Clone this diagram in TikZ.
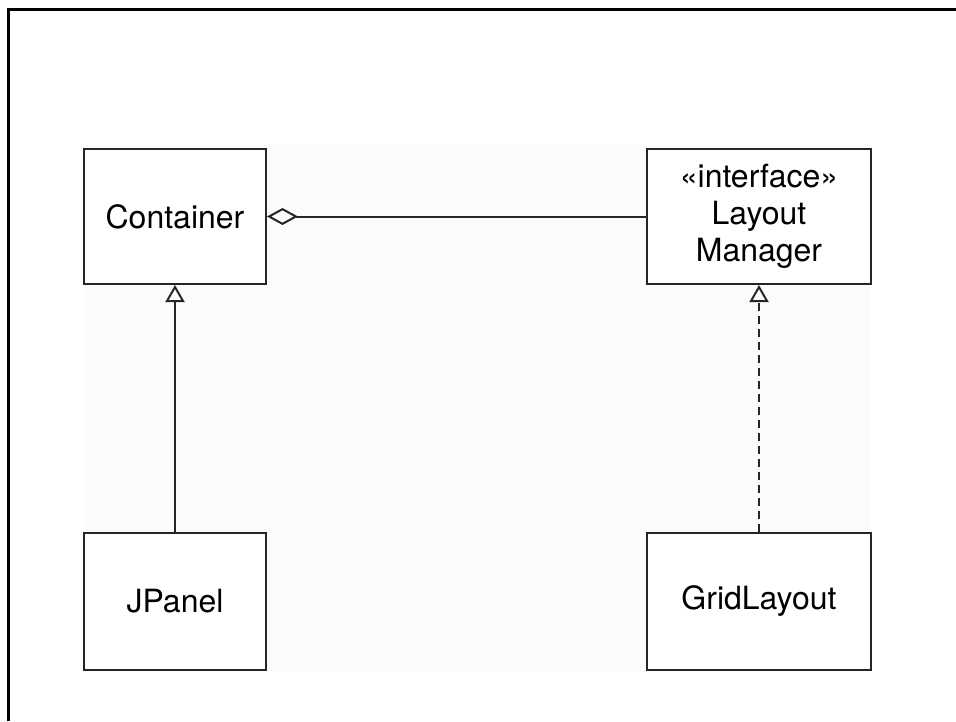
\documentclass[tikz,border=0pt]{standalone}
\usepackage{fontspec}
\setmainfont{TeX Gyre Heros}
\usetikzlibrary{arrows.meta}
\tikzset{
  classbox/.style={draw=black!85, line width=2pt, fill=white, align=center,
    font=\fontsize{32}{37}\selectfont, inner sep=0pt},
  conn/.style={draw=black!85, line width=2pt},
}
\begin{document}
\begin{tikzpicture}[x=1pt,y=-1pt]
\useasboundingbox (0,0) rectangle (956,721);
\fill[white] (0,0) rectangle (956,721);
\fill[black!1.5] (84,145) rectangle (871,672);
\draw[line width=3pt] (8,721) -- (8,9) -- (956,9);
\node[classbox, minimum width=182pt, minimum height=135pt] (container) at (175,216.5) {Container};
\node[classbox, minimum width=224pt, minimum height=135pt] (layout) at (759,216.5) {«interface»\\Layout\\Manager};
\node[classbox, minimum width=182pt, minimum height=137pt] (jpanel) at (175,601.5) {JPanel};
\node[classbox, minimum width=224pt, minimum height=137pt] (grid) at (759,601.5) {GridLayout};
\draw[conn, {Diamond[open, length=31pt, width=17pt, line width=2pt]}-] (container.east) -- (layout.west);
\draw[conn, -{Triangle[open, length=17pt, width=19pt, line width=2pt]}] (jpanel.north) -- (container.south);
\draw[conn, dash pattern=on 8pt off 5pt, -{Triangle[open, length=17pt, width=19pt, line width=2pt]}] (grid.north) -- (layout.south);
\end{tikzpicture}
\end{document}
